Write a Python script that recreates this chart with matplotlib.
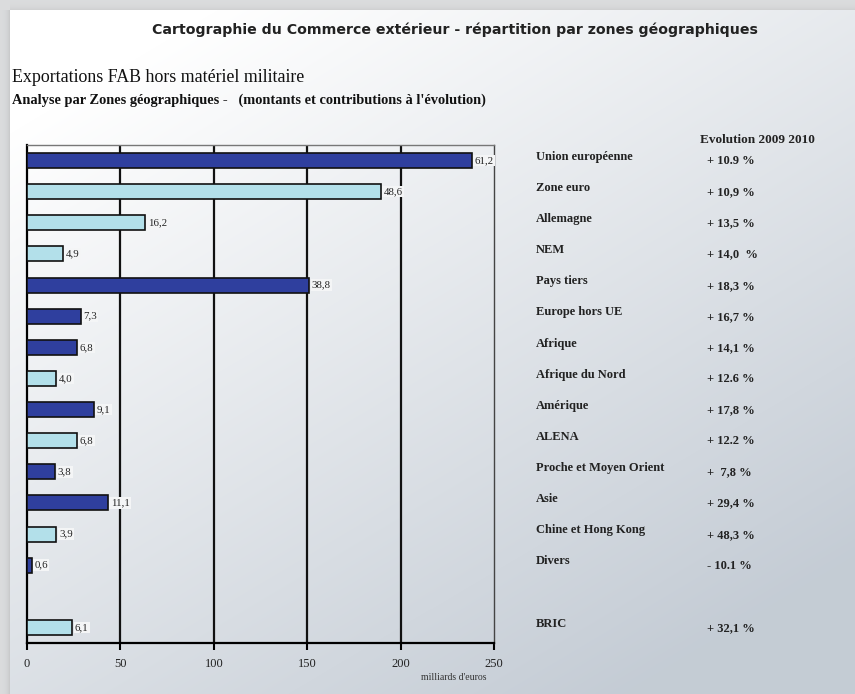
import numpy as np
import matplotlib
matplotlib.use("Agg")
import matplotlib.pyplot as plt
from matplotlib.transforms import blended_transform_factory

# ---------------- data ----------------
zones = ["Union européenne", "Zone euro", "Allemagne", "NEM", "Pays tiers",
         "Europe hors UE", "Afrique", "Afrique du Nord", "Amérique", "ALENA",
         "Proche et Moyen Orient", "Asie", "Chine et Hong Kong", "Divers", "BRIC"]
montants = [238.0, 189.5, 63.2, 19.3, 151.0, 28.7, 26.8, 15.6, 35.8, 26.7,
            15.0, 43.3, 15.6, 2.5, 24.1]          # milliards d'euros
parts = ["61,2", "48,6", "16,2", "4,9", "38,8", "7,3", "6,8", "4,0", "9,1",
         "6,8", "3,8", "11,1", "3,9", "0,6", "6,1"]   # labels on bars
evolution = ["+ 10.9 %", "+ 10,9 %", "+ 13,5 %", "+ 14,0  %", "+ 18,3 %",
             "+ 16,7 %", "+ 14,1 %", "+ 12.6 %", "+ 17,8 %", "+ 12.2 %",
             "+  7,8 %", "+ 29,4 %", "+ 48,3 %", "- 10.1 %", "+ 32,1 %"]
fonce = [True, False, False, False, True, True, True, False, True, False,
         True, True, False, True, False]
rang = [0, 1, 2, 3, 4, 5, 6, 7, 8, 9, 10, 11, 12, 13, 15]
xticks = [0, 50, 100, 150, 200, 250]

# ---------------- figure ----------------
W, H = 855, 694
fig = plt.figure(figsize=(W / 100, H / 100), dpi=100)

# background (panel with gradient + shadow on left/top)
bg = fig.add_axes([0, 0, 1, 1], zorder=-5)
bg.set_axis_off()
yy, xx = np.mgrid[0:H, 0:W]
t = np.clip((xx / W) * 0.55 + (yy / H) * 0.75 - 0.15, 0, 1)
c0 = np.array([1.0, 1.0, 1.0])
c1 = np.array([0.77, 0.80, 0.835])
img = c0[None, None, :] * (1 - t[..., None]) + c1[None, None, :] * t[..., None]
outside = np.array([0.86, 0.865, 0.87])
mask = (xx < 10) | (yy < 10)
img[mask] = outside
sh = np.exp(-np.abs(xx - 10) / 3.0) * (xx < 10) * (yy >= 10)
img -= 0.10 * sh[..., None]
sh2 = np.exp(-np.abs(yy - 10) / 3.0) * (yy < 10) * (xx >= 10)
img -= 0.06 * sh2[..., None]
bg.imshow(np.clip(img, 0, 1), extent=[0, W, H, 0], aspect="auto",
          interpolation="none")
bg.set_xlim(0, W)
bg.set_ylim(H, 0)

# titles
fig.text(455 / W, 1 - 30 / H,
         "Cartographie du Commerce extérieur - répartition par zones géographiques",
         ha="center", va="center", fontsize=10.2, fontweight="bold",
         family="DejaVu Sans", color="#222222")
fig.text(12 / W, 1 - 77 / H, "Exportations FAB hors matériel militaire",
         ha="left", va="center", fontsize=12.9, family="Liberation Serif", color="#111111")
fig.text(12 / W, 1 - 100 / H,
         "Analyse par Zones géographiques -   (montants et contributions à l'évolution)",
         ha="left", va="center", fontsize=10.35, fontweight="bold",
         family="Liberation Serif", color="#111111")

# main axes
ax = fig.add_axes([27 / W, 1 - 643 / H, (494 - 27) / W, (643 - 145) / H])
ax.patch.set_alpha(0)
dark = "#2f3f9e"
light = "#b3e0ea"
colors = [dark if f else light for f in fonce]
ax.barh(rang, montants, height=0.48, color=colors, edgecolor="#111111",
        linewidth=1.2, zorder=3)
for r, m, p in zip(rang, montants, parts):
    ax.text(m + 1.5, r, p, ha="left", va="center", fontsize=7.8,
            family="Liberation Serif", color="#222222", zorder=4,
            bbox=dict(boxstyle="square,pad=0.12", fc="#f4f5f6", ec="none"))

for x in xticks[1:-1]:
    ax.axvline(x, color="#111111", lw=1.6, zorder=1)
ax.set_xlim(0, 250)
ax.set_ylim(15.5, -0.5)
ax.set_yticks([])
ax.set_xticks(xticks)
ax.set_xticklabels([str(x) for x in xticks], family="Liberation Serif",
                   fontsize=9, color="#222222")
ax.tick_params(axis="x", direction="out", length=5, width=1.5, pad=6)
ax.spines["left"].set_linewidth(1.6)
ax.spines["bottom"].set_linewidth(1.6)
ax.spines["right"].set_linewidth(1.0)
ax.spines["right"].set_color("#444444")
ax.spines["top"].set_linewidth(1.0)
ax.spines["top"].set_color("#777777")
fig.text(454 / W, 1 - 678 / H, "milliards d'euros", ha="center", va="center",
         fontsize=7, family="Liberation Serif", color="#333333")

# right side table
tr = blended_transform_factory(fig.transFigure, ax.transData)
fig.text(700 / W, 1 - 140 / H, "Evolution 2009 2010", ha="left", va="center",
         fontsize=9.5, fontweight="bold", family="Liberation Serif", color="#222222")
for r, z, e in zip(rang, zones, evolution):
    ax.text(536 / W, r - 0.12, z, transform=tr, ha="left", va="center",
            fontsize=9, fontweight="bold", family="Liberation Serif",
            color="#222222", clip_on=False)
    ax.text(707 / W, r + 0.02, e, transform=tr, ha="left", va="center",
            fontsize=9, fontweight="bold", family="Liberation Serif",
            color="#222222", clip_on=False)

fig.savefig("out.png", dpi=100)
